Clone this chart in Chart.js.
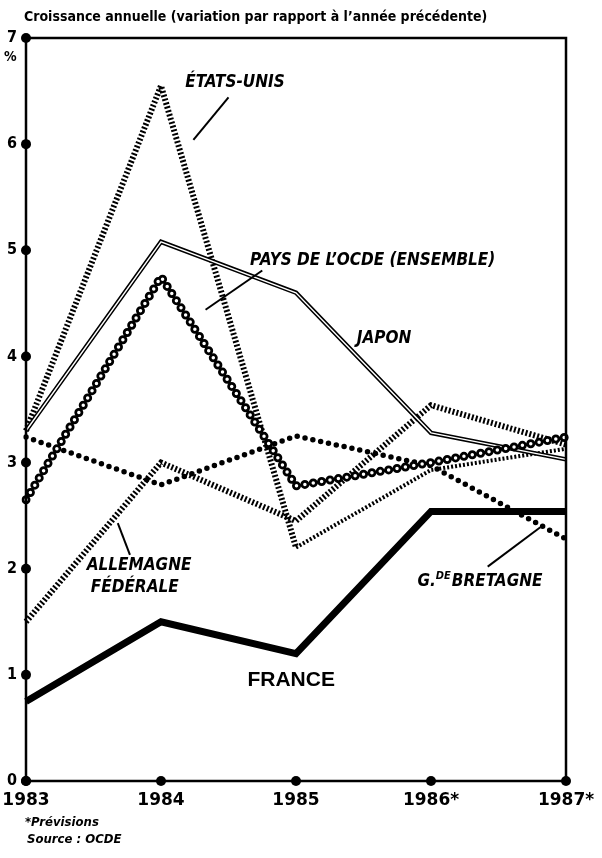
<!DOCTYPE html>
<html>
<head>
<meta charset="utf-8">
<script src="https://cdn.jsdelivr.net/npm/chart.js@4/dist/chart.umd.min.js"></script>
<style>
  body { margin: 0; background: #fff; }
  #wrap { width: 602px; height: 858px; position: relative; }
</style>
</head>
<body>
<div id="wrap"><canvas id="croissance"></canvas></div>
<script>
const years = ['1983', '1984', '1985', '1986*', '1987*'];
const yTicks = [0, 1, 2, 3, 4, 5, 6, 7];

// croissance annuelle en %
const etatsUnis = [3.3, 6.55, 2.2, 2.93, 3.13];
const japon = [3.3, 5.08, 4.6, 3.28, 3.03];
const ocde = [2.65, 4.75, 2.78, 3.0, 3.24];
const allemagne = [1.5, 3.0, 2.45, 3.54, 3.17];
const bretagne = [3.24, 2.79, 3.25, 2.97, 2.28];
const france = [0.75, 1.5, 1.2, 2.54, 2.54];

const narrow = '"Liberation Sans Narrow", "DejaVu Sans Condensed", sans-serif';
const ctx = document.getElementById('croissance');

// texte des courbes: [texte, x (index année), y (%)]
const labels = [
    ['ÉTATS-UNIS', 1.18, 6.58],
    ['PAYS DE L\u2019OCDE (ENSEMBLE)', 1.66, 4.9],
    ['JAPON', 2.45, 4.17],
    ['ALLEMAGNE', 0.45, 2.03],
    ['FÉDÉRALE', 0.48, 1.82],
];
const leaders = [
    [1.5, 6.44, 1.24, 6.04],
    [1.75, 4.81, 1.33, 4.44],
    [0.77, 2.13, 0.68, 2.43],
    [3.42, 2.02, 3.81, 2.39],
];

const decor = {
    id: 'decor',
    beforeDraw(chart) {
        const c = chart.ctx;
        c.save();
        c.fillStyle = '#fff';
        c.fillRect(0, 0, chart.width, chart.height);
        c.restore();
    },
    afterDraw(chart) {
        const c = chart.ctx;
        const a = chart.chartArea;
        const x = chart.scales.x, y = chart.scales.y;
        c.save();
        c.strokeStyle = '#000';
        c.fillStyle = '#000';
        c.lineWidth = 2.5;
        c.strokeRect(a.left, a.top, a.right - a.left, a.bottom - a.top);

        // points sur les axes
        yTicks.forEach(v => {
            c.beginPath();
            c.arc(a.left, y.getPixelForValue(v), 5, 0, Math.PI * 2);
            c.fill();
        });
        years.forEach((v, i) => {
            c.beginPath();
            c.arc(x.getPixelForValue(i), a.bottom, 5, 0, Math.PI * 2);
            c.fill();
        });

        // titre
        c.textBaseline = 'middle';
        c.textAlign = 'left';
        c.font = 'bold 14px ' + narrow;
        c.fillText('Croissance annuelle (variation par rapport à l\u2019année précédente)', 24, 17);
        c.font = 'bold 14px ' + narrow;
        c.fillText('%', 4, 57);

        // noms des pays
        c.font = 'italic bold 17px ' + narrow;
        labels.forEach(l => {
            c.fillText(l[0], x.getPixelForValue(l[1]), y.getPixelForValue(l[2]));
        });
        let gx = x.getPixelForValue(2.9), gy = y.getPixelForValue(1.88);
        c.fillText('G.', gx, gy);
        gx += c.measureText('G.').width;
        c.font = 'italic bold 11px ' + narrow;
        c.fillText('DE', gx, gy - 5);
        gx += c.measureText('DE').width + 1;
        c.font = 'italic bold 17px ' + narrow;
        c.fillText('BRETAGNE', gx, gy);

        c.font = 'bold 21px "Liberation Sans", Arial, sans-serif';
        c.fillText('FRANCE', x.getPixelForValue(1.64), y.getPixelForValue(0.95));

        c.lineWidth = 2;
        leaders.forEach(l => {
            c.beginPath();
            c.moveTo(x.getPixelForValue(l[0]), y.getPixelForValue(l[1]));
            c.lineTo(x.getPixelForValue(l[2]), y.getPixelForValue(l[3]));
            c.stroke();
        });

        // notes
        c.font = 'italic bold 13px ' + narrow;
        c.fillText('*Prévisions', 25, 823);
        c.fillText('Source : OCDE', 27, 840);
        c.restore();
    }
};

const chart = new Chart(ctx, {
    type: 'line',
    data: {
        labels: years,
        datasets: [
            {
                label: 'France',
                data: france,
                borderColor: '#000',
                borderWidth: 7,
                borderJoinStyle: 'miter',
                order: 1
            },
            {
                label: 'OCDE (centre)',
                data: ocde,
                borderColor: '#fff',
                borderWidth: 3.5,
                borderDash: [0, 8.5],
                borderCapStyle: 'round',
                order: 2
            },
            {
                label: 'Pays de l\u2019OCDE (ensemble)',
                data: ocde,
                borderColor: '#000',
                borderWidth: 9,
                borderDash: [0, 8.5],
                borderCapStyle: 'round',
                order: 3
            },
            {
                label: 'Japon (centre)',
                data: japon,
                borderColor: '#fff',
                borderWidth: 1.4,
                order: 4
            },
            {
                label: 'Japon',
                data: japon,
                borderColor: '#000',
                borderWidth: 4.5,
                order: 5
            },
            {
                label: 'Etats-Unis',
                data: etatsUnis,
                borderColor: '#000',
                borderWidth: 6,
                borderDash: [2, 2],
                segment: {
                    borderWidth: s => s.p0DataIndex >= 2 ? 4 : 6
                },
                order: 6
            },
            {
                label: 'Allemagne fédérale',
                data: allemagne,
                borderColor: '#000',
                borderWidth: 6,
                borderDash: [2, 2],
                order: 7
            },
            {
                label: 'Grande-Bretagne',
                data: bretagne,
                borderColor: '#000',
                borderWidth: 5.5,
                borderDash: [0, 8],
                borderCapStyle: 'round',
                order: 8
            },
        ]
    },
    options: {
        responsive: true,
        maintainAspectRatio: false,
        animation: false,
        layout: { padding: { top: 38, right: 36, left: 0, bottom: 0 } },
        elements: {
            point: { radius: 0 },
            line: { tension: 0, fill: false }
        },
        plugins: {
            legend: { display: false },
            tooltip: { enabled: false }
        },
        scales: {
            x: {
                offset: false,
                grid: { display: false, drawTicks: false },
                border: { display: false },
                ticks: {
                    color: '#000',
                    padding: 9,
                    maxRotation: 0,
                    font: { family: '"DejaVu Sans", sans-serif', size: 17, weight: 'bold' }
                },
                afterFit: s => {
                    s.height = 77;
                    s.paddingLeft = 0;
                    s.paddingRight = 0;
                }
            },
            y: {
                min: 0,
                max: 7,
                grid: { display: false, drawTicks: false },
                border: { display: false },
                ticks: {
                    stepSize: 1,
                    color: '#000',
                    padding: 9,
                    font: { family: narrow, size: 16, weight: 'bold' }
                },
                afterFit: s => {
                    s.width = 26;
                    s.paddingTop = 0;
                    s.paddingBottom = 0;
                }
            }
        }
    },
    plugins: [decor]
});
</script>
</body>
</html>
